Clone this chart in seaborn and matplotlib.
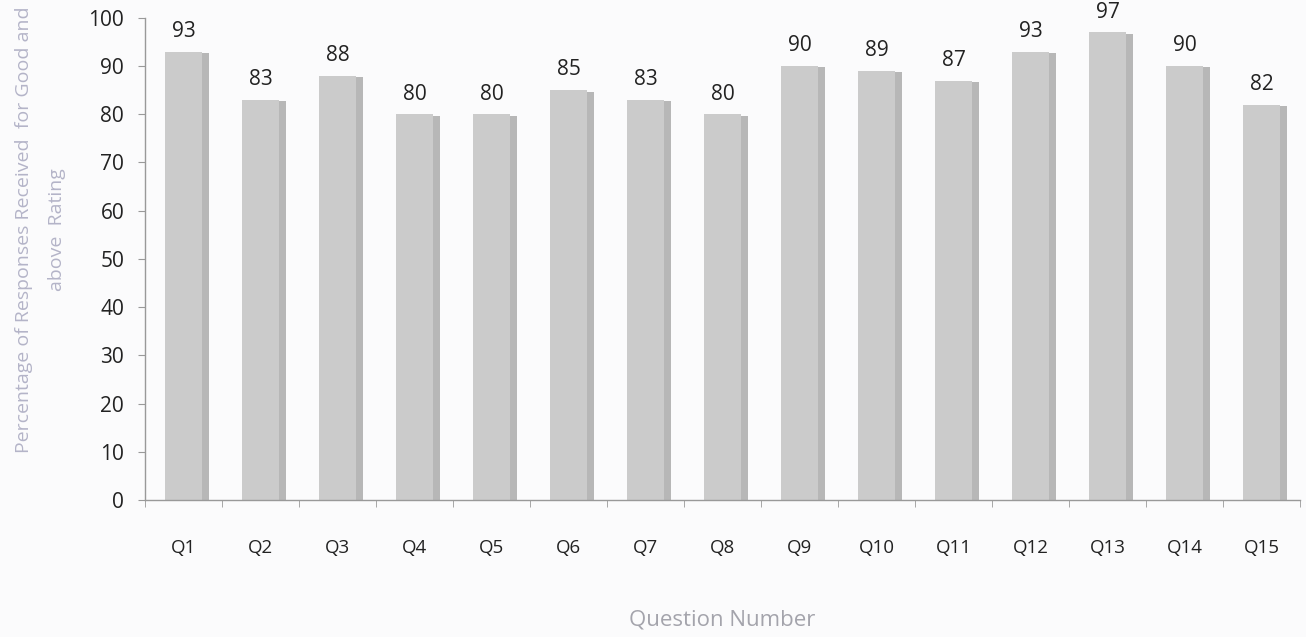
import numpy as np
import pandas as pd
import matplotlib
matplotlib.use("Agg")
import matplotlib.pyplot as plt
import matplotlib.patheffects as pe
from matplotlib.ticker import FixedLocator
import seaborn as sns

# Data
questions = [f"Q{i}" for i in range(1, 16)]
percent_good = [93, 83, 88, 80, 80, 85, 83, 80, 90, 89, 87, 93, 97, 90, 82]

df = pd.DataFrame({"question": questions, "percent": percent_good})

# Environment settings
sns.set_style("white")
plt.rcParams['font.family'] = ['Open Sans', 'DejaVu Sans']

fig = plt.figure(figsize=(13.06, 6.37), dpi=100)
fig.patch.set_facecolor("#fbfbfc")
ax = fig.add_axes([0.111, 0.215, 0.8844, 0.757])
ax.set_facecolor("#fbfbfc")

# Bars with a soft shadow on the right
sns.barplot(data=df, x="question", y="percent", color="#cbcbcb",
            saturation=1, width=0.48, linewidth=0, ax=ax)
for bar in ax.patches:
    bar.set_path_effects([
        pe.SimplePatchShadow(offset=(5, -1), shadow_rgbFace="#a6a6a6", alpha=0.8),
        pe.Normal()])

# Value labels
for c in ax.containers:
    labels = ax.bar_label(c, fmt="%d", padding=7, fontsize=15, color="#222222")
    for t in labels:
        t.set_clip_on(False)

# Axes
ax.set_ylim(0, 100)
ax.set_xlim(-0.5, len(questions) - 0.5)
ax.set_yticks(np.arange(0, 101, 10))
ax.tick_params(axis="y", labelsize=15, labelcolor="#222222", length=5,
               color="#999999", left=True, pad=10)
ax.tick_params(axis="x", which="major", length=0, labelsize=13.5,
               labelcolor="#222222", pad=28)
ax.xaxis.set_minor_locator(FixedLocator(np.arange(-0.5, len(questions), 1)))
ax.tick_params(axis="x", which="minor", length=5, color="#999999", bottom=True)

for side in ["top", "right"]:
    ax.spines[side].set_visible(False)
for side in ["left", "bottom"]:
    ax.spines[side].set_color("#999999")
    ax.spines[side].set_linewidth(1)

# Label plot
ax.set_xlabel("Question Number", fontsize=16, color="#a4a4ac", labelpad=38)
ax.set_ylabel("Percentage of Responses Received  for Good and\nabove  Rating",
              fontsize=14, color="#b4b4c8", linespacing=2.1)
ax.yaxis.set_label_coords(-0.068, 0.56)

fig.savefig("out.png", dpi=100, facecolor=fig.get_facecolor())
